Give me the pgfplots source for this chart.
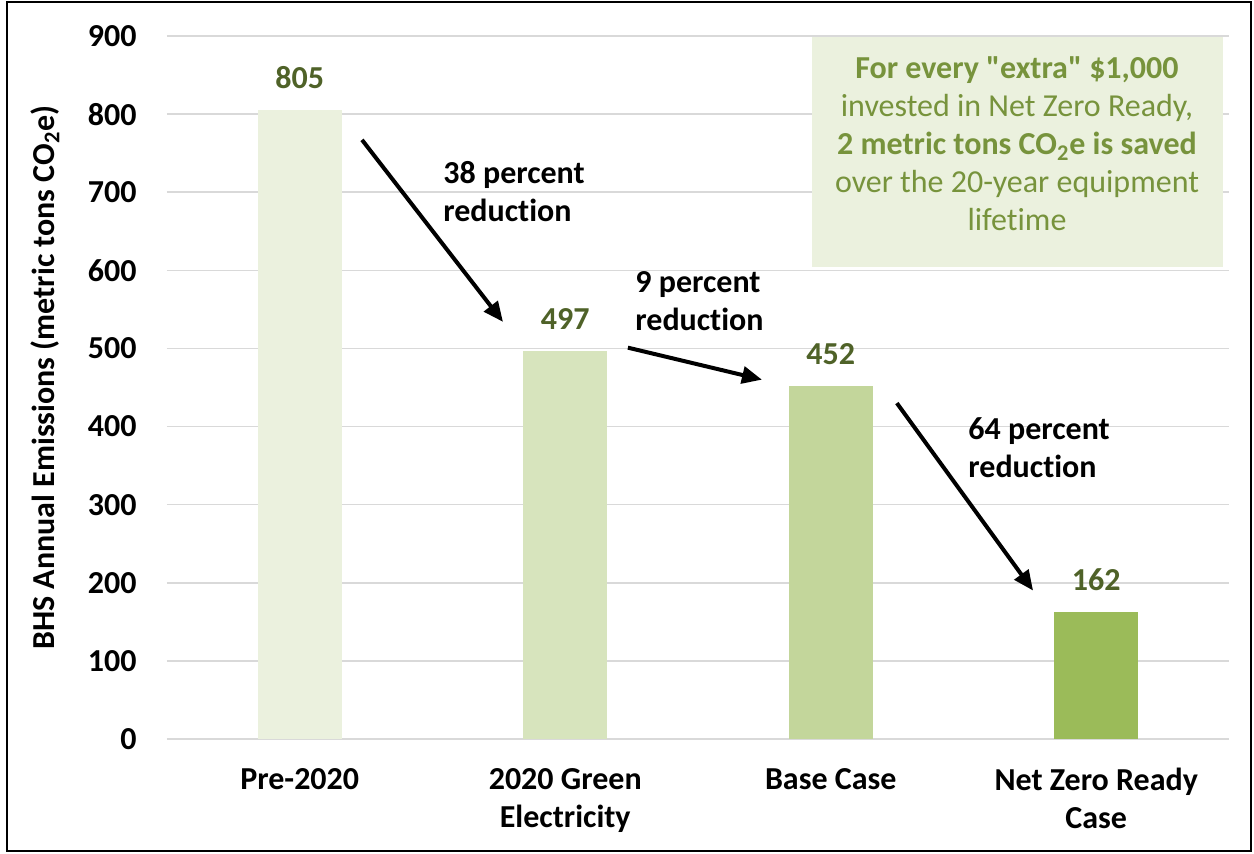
\documentclass[border=0pt]{standalone}
\usepackage{pgfplots}
\pgfplotsset{compat=1.18}
\usepackage{fontspec}
\setmainfont{Carlito}[Ligatures={TeXOff,CommonOff}]
\usetikzlibrary{arrows.meta}
\definecolor{barA}{HTML}{EBF1DE}
\definecolor{barB}{HTML}{D7E4BD}
\definecolor{barC}{HTML}{C3D69B}
\definecolor{barD}{HTML}{9BBB59}
\definecolor{lbl}{HTML}{4F6228}
\definecolor{boxtxt}{HTML}{77933C}
\definecolor{gridc}{HTML}{D9D9D9}
\newcommand{\bigf}{\fontsize{16}{19}\selectfont}
\begin{document}
\begin{tikzpicture}[x=1pt,y=1pt]
\useasboundingbox (0,0) rectangle (627,427);
\draw[line width=0.9pt] (3.5,1.5) rectangle (625.5,426);
\begin{axis}[
  at={(83.5pt,57.5pt)}, anchor=south west,
  scale only axis, width=531pt, height=351.5pt,
  xmin=-0.5, xmax=3.5, ymin=0, ymax=900,
  ytick={0,100,...,900},
  xtick={0,1,2,3},
  xticklabels={Pre-2020, 2020 Green\\Electricity, Base Case, Net Zero Ready\\Case},
  xticklabel style={align=center, font=\bfseries\bigf, inner sep=0pt, anchor=north, yshift=-14.5pt},
  yticklabel style={font=\bfseries\bigf, inner sep=0pt, anchor=east, xshift=-15pt},
  /pgf/number format/assume math mode=true,
  ymajorgrids, major grid style={gridc, line width=0.75pt},
  axis line style={draw=none},
  major tick length=0pt,
  ybar, bar width=42pt,
  nodes near coords,
  nodes near coords style={font=\bfseries\bigf, text=lbl, anchor=south, inner sep=0pt, yshift=10.5pt},
  every axis y label/.style={at={(axis description cs:-0.115,0.514)}, anchor=center, rotate=90, font=\bfseries\bigf},
  ylabel={BHS Annual Emissions (metric tons CO\textsubscript{2}e)},
  clip=false,
]
\addplot[fill=barA, draw=none, bar shift=0pt] coordinates {(0,805)};
\addplot[fill=barB, draw=none, bar shift=0pt] coordinates {(1,497)};
\addplot[fill=barC, draw=none, bar shift=0pt] coordinates {(2,452)};
\addplot[fill=barD, draw=none, bar shift=0pt] coordinates {(3,162)};
\fill[barA] (axis cs:1.929,604) rectangle (axis cs:3.477,899);
\node[align=center, text=boxtxt, font=\bigf, inner sep=0pt] at (axis cs:2.7015,761.5)
  {\textbf{For every "extra" \$1,000}\\invested in Net Zero Ready,\\\textbf{2 metric tons CO\textsubscript{2}e is saved}\\over the 20-year equipment\\lifetime};
\node[align=left, anchor=west, font=\bfseries\bigf, inner sep=0pt] at (axis cs:0.5395,701) {38 percent\\reduction};
\node[align=left, anchor=west, font=\bfseries\bigf, inner sep=0pt] at (axis cs:1.2627,561) {9 percent\\reduction};
\node[align=left, anchor=west, font=\bfseries\bigf, inner sep=0pt] at (axis cs:2.517,372.4) {64 percent\\reduction};
\draw[line width=2pt, -{Triangle[length=10pt,width=8.5pt]}] (axis cs:0.2345,767) -- (axis cs:0.7655,534);
\draw[line width=2pt, -{Triangle[length=10pt,width=8.5pt]}] (axis cs:1.236,501) -- (axis cs:1.741,460);
\draw[line width=2pt, -{Triangle[length=10pt,width=8.5pt]}] (axis cs:2.249,430) -- (axis cs:2.762,190);
\end{axis}
\end{tikzpicture}
\end{document}
